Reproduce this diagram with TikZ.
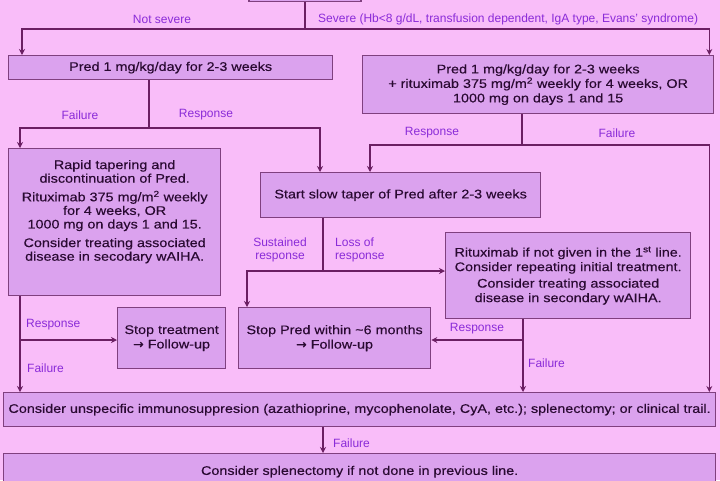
\documentclass[tikz,border=0pt]{standalone}
\usepackage{fontspec}
\setmainfont{Liberation Sans}
\newfontfamily\boxfont[FakeStretch=1.15,FakeBold=0.3]{Liberation Sans}
\newfontfamily\arrowfont[FakeBold=0.3]{DejaVu Sans}
\usetikzlibrary{arrows.meta,calc}
\definecolor{bgpink}{HTML}{F9BDF9}
\definecolor{boxfill}{HTML}{DBA2EE}
\definecolor{boxline}{HTML}{80407F}
\definecolor{wirecol}{HTML}{6B1F63}
\definecolor{lblcol}{HTML}{8A2BD8}
\definecolor{txtcol}{HTML}{2A0A32}
\begin{document}
\begin{tikzpicture}[x=1pt,y=-1pt,
  box/.style={draw=boxline, fill=boxfill, line width=1.3pt, align=center, text=txtcol,
    font=\boxfont\fontsize{12.5}{14.5}\selectfont, inner sep=2pt, anchor=north west},
  wire/.style={draw=wirecol, line width=1.6pt},
  arr/.style={wire, -{Stealth[length=6pt,width=6pt]}},
  lab/.style={text=lblcol, font=\fontsize{12}{13}\selectfont, inner sep=0pt}]
\fill[bgpink] (0,0) rectangle (720,480);
\useasboundingbox (0,0) rectangle (720,480);

% boxes
\node[box, minimum width=112pt, minimum height=30pt, anchor=south] (top) at (305,2) {};
\node[box, minimum width=324pt, minimum height=24pt] (pred1) at (8,55) {Pred 1 mg/kg/day for 2-3 weeks};
\node[box, minimum width=351pt, minimum height=58pt] (pred2) at (362,55)
  {Pred 1 mg/kg/day for 2-3 weeks\\+ rituximab 375 mg/m\textsuperscript{2} weekly for 4 weeks, OR\\1000 mg on days 1 and 15};
\node[box, minimum width=212pt, minimum height=147pt, font=\boxfont\fontsize{12.5}{13.6}\selectfont] (rapid) at (8,148)
  {Rapid tapering and\\discontinuation of Pred.\\[5pt]Rituximab 375 mg/m\textsuperscript{2} weekly\\for 4 weeks, OR\\1000 mg on days 1 and 15.\\[5pt]Consider treating associated\\disease in secodary wAIHA.\\[10pt]~};
\node[box, minimum width=280pt, minimum height=45pt] (slow) at (260,172) {Start slow taper of Pred after 2-3 weeks};
\node[box, minimum width=245pt, minimum height=86pt] (ritux2) at (445,232)
  {Rituximab if not given in the 1\textsuperscript{st} line.\\Consider repeating initial treatment.\\[2pt]Consider treating associated\\disease in secondary wAIHA.};
\node[box, minimum width=108pt, minimum height=61pt] (stoptr) at (117,307) {Stop treatment\\{\arrowfont →} Follow-up};
\node[box, minimum width=192pt, minimum height=61pt] (stoppred) at (238,307) {Stop Pred within \textasciitilde6 months\\{\arrowfont →} Follow-up};
\node[box, minimum width=712pt, minimum height=34pt] (cons1) at (3,392)
  {Consider unspecific immunosuppresion (azathioprine, mycophenolate, CyA, etc.); splenectomy; or clinical trail.};
\node[box, minimum width=712pt, minimum height=36pt] (cons2) at (3,453)
  {Consider splenectomy if not done in previous line.};

% junctions
\coordinate (j1) at (305,29);
\coordinate (j2) at (149,128);
\coordinate (j3) at (522,145);
\coordinate (j4) at (20,340);
\coordinate (j5) at (323,271);
\coordinate (j6) at (523,340);
\coordinate (j7) at (323,0);

% connectors
\draw[wire] (top.south) -- (j1);
\draw[arr] (j1) -| ($(pred1.north west)+(14,0)$);
\draw[arr] (j1) -| ($(pred2.north east)+(-5,0)$);
\draw[wire] (pred1.south -| j2) -- (j2);
\draw[arr] (j2) -| ($(rapid.north west)+(12,0)$);
\draw[arr] (j2) -| ($(slow.north west)+(60,0)$);
\draw[wire] (pred2.south -| j3) -- (j3);
\draw[arr] (j3) -| ($(slow.north west)+(110,0)$);
\draw[arr] (j3) -| ($(cons1.north east)+(-7,0)$);
\draw[arr] (rapid.south -| j4) -- (cons1.north -| j4);
\draw[arr] (j4) -- (stoptr.west |- j4);
\draw[wire] (slow.south -| j5) -- (j5);
\draw[arr] (j5) -- (ritux2.west |- j5);
\draw[arr] (j5) -| ($(stoppred.north west)+(9,0)$);
\draw[arr] (ritux2.south -| j6) -- (cons1.north -| j6);
\draw[arr] (j6) -- (stoppred.east |- j6);
\draw[arr] (cons1.south -| j7) -- (cons2.north -| j7);

% labels
\node[lab] (l1) at (162,19) {Not severe};
\node[lab, anchor=west] (l2) at (318,19) {Severe (Hb<8 g/dL, transfusion dependent, IgA type, Evans' syndrome)};
\node[lab] (l3) at (80,115) {Failure};
\node[lab] (l4) at (206,115) {Response};
\node[lab] (l5) at (432,133) {Response};
\node[lab] (l6) at (617,133) {Failure};
\node[lab, align=center] (l7) at (280,250) {Sustained\\response};
\node[lab, align=left, anchor=west] (l8) at (335,250) {Loss of\\response};
\node[lab, anchor=west] (l9) at (26,325) {Response};
\node[lab, anchor=west] (l10) at (27,368) {Failure};
\node[lab] (l11) at (477,329) {Response};
\node[lab, anchor=west] (l12) at (528,363) {Failure};
\node[lab, anchor=west] (l13) at (333,443) {Failure};
\end{tikzpicture}
\end{document}
